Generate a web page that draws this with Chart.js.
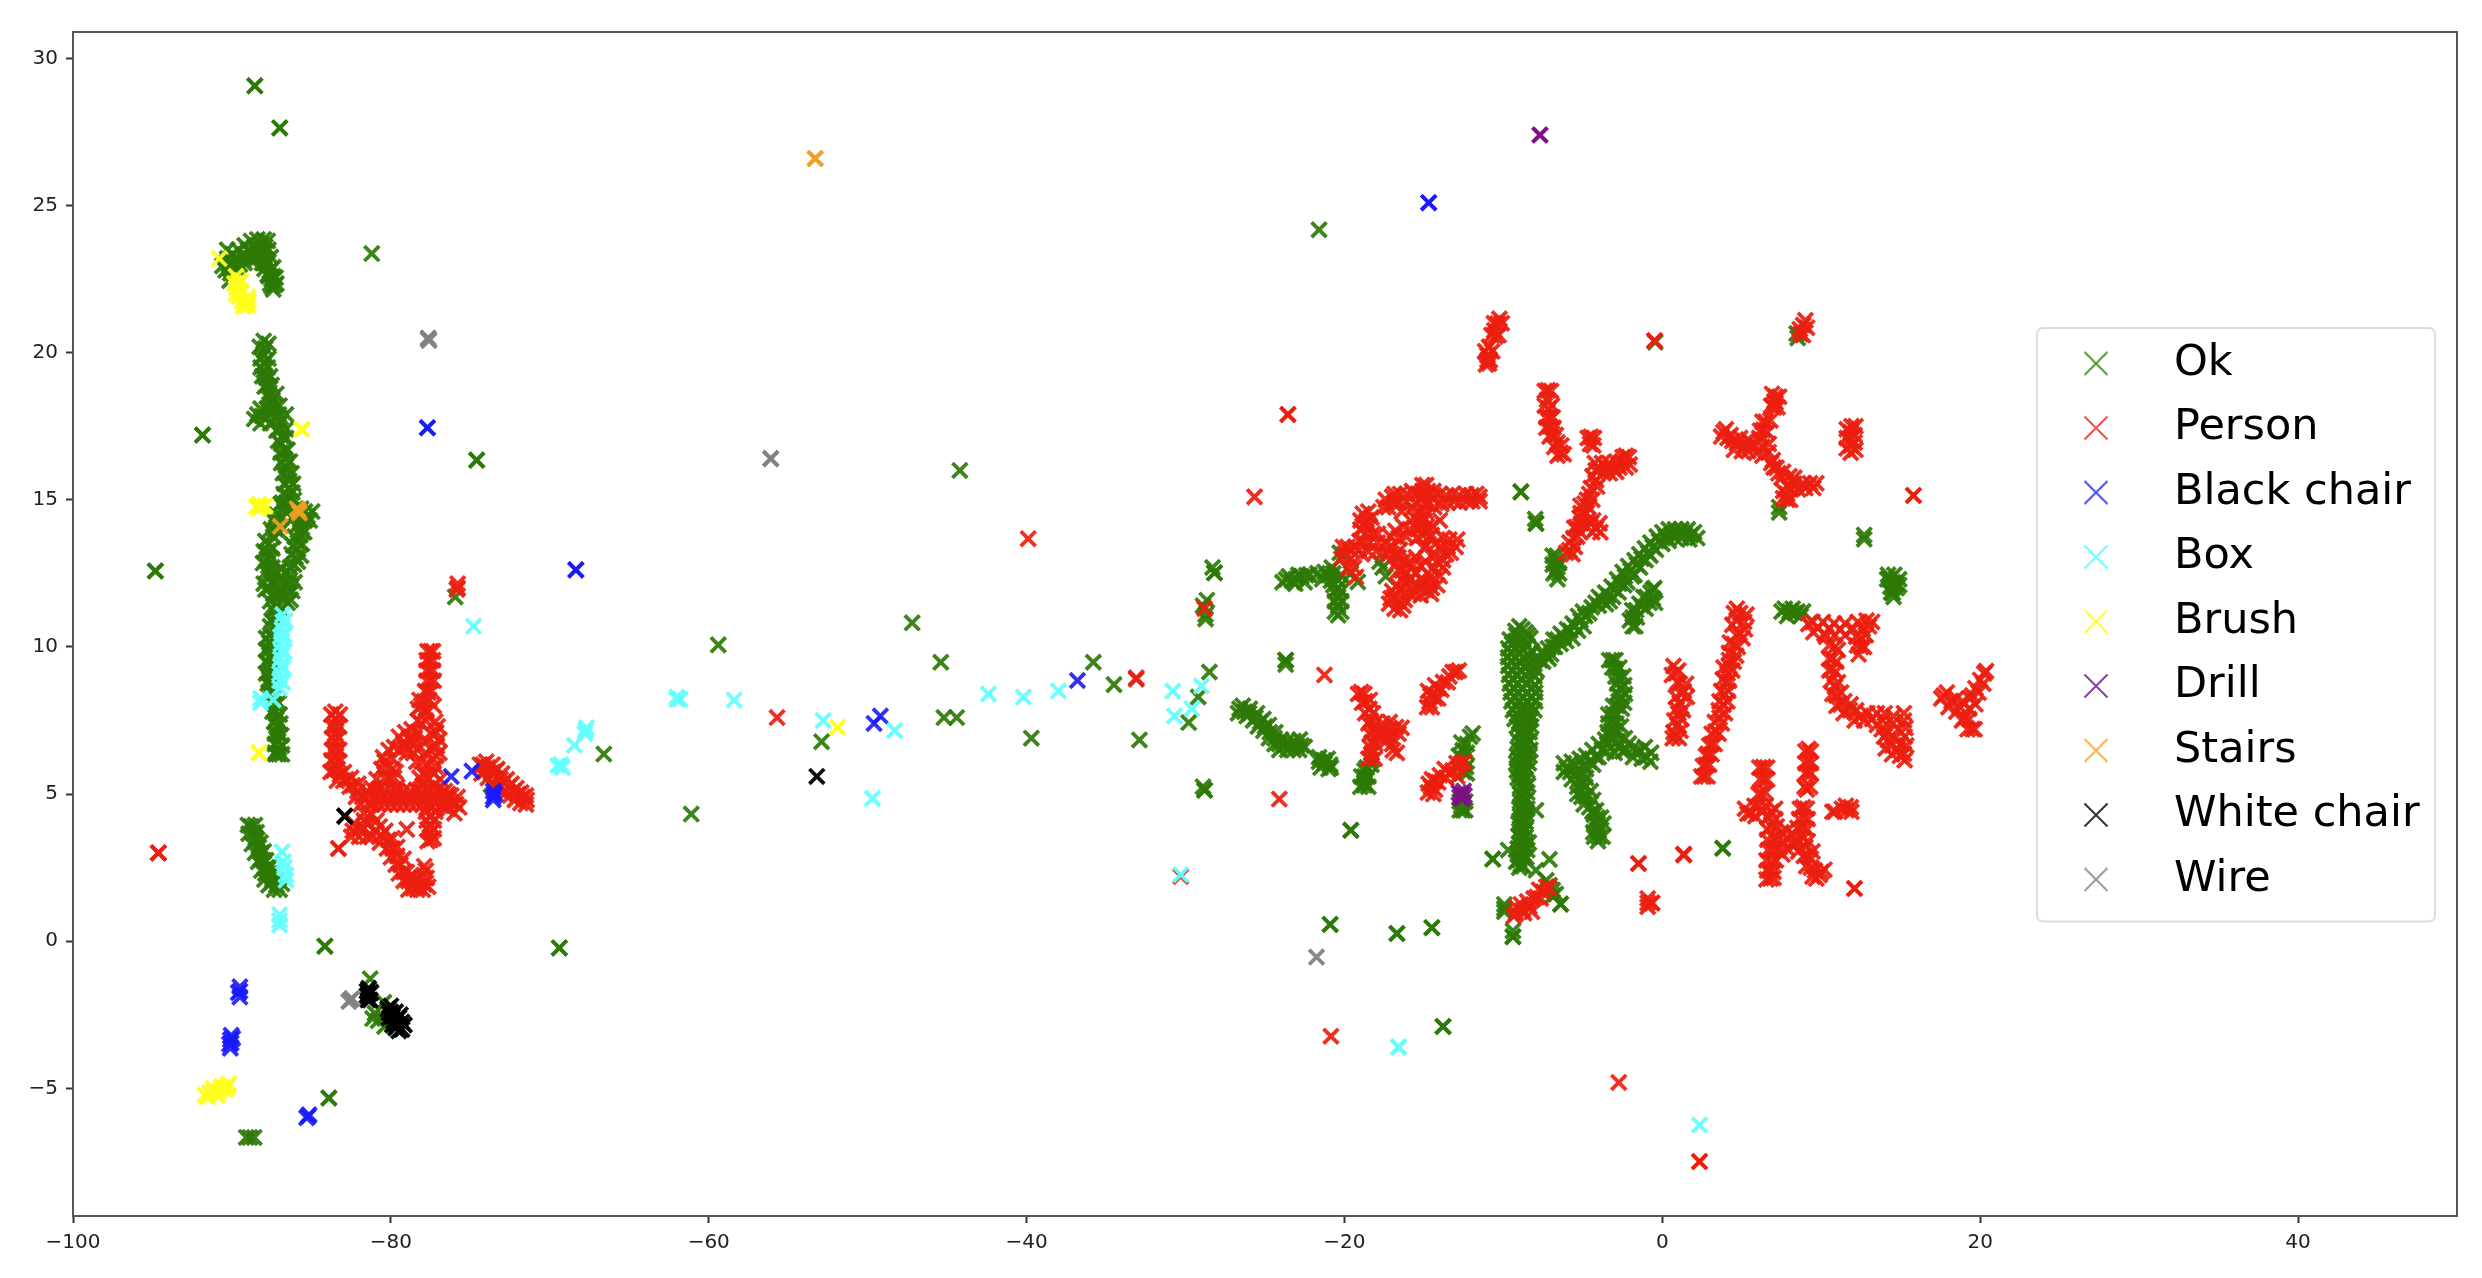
<!DOCTYPE html>
<html><head><meta charset="utf-8">
<style>html,body{margin:0;padding:0;background:#fff}canvas{display:block;filter:blur(0.6px)}</style>
<script src="https://cdn.jsdelivr.net/npm/chart.js@4"></script>
</head><body><canvas id="c" width="2482" height="1278"></canvas>
<script>
const classNames=["Ok","Person","Black chair","Box","Brush","Drill","Stairs","White chair","Wire"];
const xTicks=[-100,-80,-60,-40,-20,0,20,40];
const yTicks=[-5,0,5,10,15,20,25,30];
const ok=[
[-88.56,29.07],[-88.56,29.07],[-86.99,27.64],[-86.99,27.64],[-81.2,23.37],[-91.85,17.2],[-91.85,17.2],[-74.6,16.35],[-74.6,16.35],[-94.82,12.58],[-94.82,12.58],[-75.95,11.7],[-84.15,-0.17],[-84.15,-0.17],[-69.4,-0.23],[-69.4,-0.23],[-83.9,-5.33],[-83.9,-5.33],[-66.6,6.36],[-61.1,4.32],[-81.3,-1.28],[-81.15,-2.63],[-81.0,-2.45],[-80.44,-2.08],[-80.4,-2.9],[-80.8,-2.7],[-73.7,5.32],[-73.4,5.8],
[-89.1,-6.67],[-88.87,-6.67],[-88.6,-6.67],
[-90.3,23.5],[-90.4,22.8],[-90.2,23.0],[-90.0,23.1],[-89.7,23.2],[-89.3,23.3],[-89.0,23.5],[-88.6,23.6],[-88.2,23.7],[-87.9,23.6],[-88.2,23.3],[-88.7,23.2],[-87.9,23.2],[-87.8,23.0],[-87.6,22.8],[-87.4,22.6],[-87.3,22.3],[-87.5,22.5],[-90.1,22.7],[-89.9,22.9],[-89.5,23.0],[-88.4,23.5],[-88.0,23.4],[-87.7,22.6],[-87.5,22.25],
[-90.6,22.95],[-90.3,23.2],[-89.95,23.35],[-89.6,23.5],[-89.2,23.65],[-88.8,23.8],[-88.4,23.85],[-88,23.85],[-87.75,23.8],[-90.15,22.45],[-89.85,22.65],[-89.55,22.8],[-89.2,23.05],[-88.9,23.2],[-88.45,23.2],[-88.1,23.05],[-87.95,22.85],[-87.75,22.65],[-87.6,22.35],[-87.25,22.55],[-87.4,22.9],[-87.55,23.25],[-87.7,23.5],[-88.0,23.05],[-87.2,22.35],[-87.4,22.15],
[-88,20.4],[-87.9,20.15],[-88.05,19.9],[-87.95,19.65],[-88,19.4],[-87.85,19.15],[-87.8,18.9],[-87.65,18.65],[-87.45,18.4],[-87.3,18.15],[-87.05,17.9],[-87.5,18.0],[-88.4,17.9],[-88.1,17.85],[-87.8,17.8],[-86.9,17.65],[-86.95,17.4],[-86.85,17.15],[-86.9,16.9],[-86.7,16.65],[-86.7,16.4],[-86.6,16.15],[-86.55,15.9],[-86.4,15.65],[-86.4,15.4],[-86.5,15.15],[-86.6,14.9],[-86.7,14.65],[-86.1,15.0],
[-88.25,20.2],[-87.7,20.3],[-88.2,19.8],[-87.7,19.8],[-88.2,19.5],[-87.75,19.5],[-88.1,19.2],[-87.6,19.2],[-87.95,18.85],[-87.5,18.9],[-87.75,18.5],[-87.2,18.6],[-87.5,18.2],[-87,18.2],[-88.2,18.1],[-87.8,18.1],[-88.6,17.75],[-88.2,17.6],[-87.6,17.6],[-87.3,17.7],[-86.6,17.9],[-87.2,17.35],[-86.6,17.4],[-87.1,17],[-86.6,17.1],[-86.95,16.6],[-86.5,16.7],[-86.9,16.25],[-86.35,16.3],[-86.8,15.9],[-86.25,15.9],[-86.7,15.55],[-86.15,15.55],[-86.75,15.2],[-86.2,15.25],[-86.85,14.9],[-86.35,14.7],[-86.0,14.7],[-85.65,14.7],[-85.25,14.45],[-85.95,14.1],[-85.4,14.3],[-85.45,13.9],[-86.05,13.75],[-85.6,13.5],[-86.15,13.45],[-85.65,13.1],[-86.25,13.15],[-85.85,12.9],[-86.35,12.7],[-86.95,14.85],[-87.4,14.3],[-86.85,14.4],[-87.55,14],[-87.0,13.9],[-87.9,13.6],[-87.45,13.35],[-88,13.25],[-87.5,13],[-88.05,12.85],[-87.45,12.7],[-87.85,12.55],[-87.2,12.55],[-86.9,12.65],[-86.3,12.45],[-86.05,12.2],[-86.2,11.9],[-86.3,11.6],[-86.9,11.8],[-87.7,12],[-88.0,12.15],[-87.2,12.1],[-86.6,12.1],[-87.1,11.75],[-86.5,11.5],[-87.6,11.55],[-87.1,11.0],[-87.5,10.9],[-87.25,10.75],[-87.85,10.3],[-87.4,10.3],[-87.85,9.9],[-87.4,9.8],[-87.85,9.5],[-87.4,9.4],[-87.85,9.1],[-87.4,9.0],[-87.75,8.75],[-87.35,8.7],[-87.7,8.45],[-87.35,8.45],[-87.45,8.2],[-87.05,8.1],[-87.45,7.8],[-87.0,7.7],[-87.35,7.45],[-86.95,7.4],[-87.3,7.05],[-86.9,7.0],[-87.3,6.7],[-86.85,6.65],[-87.25,6.35],[-86.85,6.35],
[-85.4,14.6],[-84.95,14.6],[-85.1,14.3],[-85.7,14.3],[-85.6,14.05],[-86.2,14.4],[-85.7,13.8],[-85.85,13.55],[-85.9,13.3],[-86,13.05],[-86.1,12.8],
[-87.2,14.5],[-87.1,14.25],[-87.25,14.0],[-87.4,13.75],[-87.7,13.5],[-87.75,13.25],[-87.8,13],[-87.7,12.75],[-87.6,12.5],
[-86.6,12.5],[-87,12.3],[-86.4,12.2],[-87.5,12.2],[-87.9,11.95],[-87,12],[-86.5,11.9],[-87.4,11.8],[-86.7,11.6],[-87.2,11.5],[-87.4,11.25],[-86.95,11.25],[-87.35,11],[-87.6,10.7],
[-87.6,10.4],[-87.65,10.15],[-87.65,9.9],[-87.6,9.65],[-87.7,9.4],[-87.6,9.15],[-87.65,8.9],[-87.55,8.65],[-87.6,8.4],[-87.3,8.05],[-87.3,7.8],[-87.2,7.55],[-87.2,7.3],[-87.1,7.05],[-87.1,6.8],[-87.05,6.55],[-87.05,6.35],[-87.3,6.4],
[-88.8,3.9],[-88.65,3.7],[-88.4,3.45],[-88.3,3.2],[-88.15,3.0],[-88,2.75],[-87.8,2.5],[-87.6,2.3],[-87.45,2.1],[-87.2,1.9],[-87,1.75],[-87.5,2.0],[-88.5,3.5],[-87.9,2.3],[-88.2,2.8],
[-89,3.95],[-88.55,3.95],[-88.95,3.65],[-88.45,3.7],[-88.75,3.3],[-88.2,3.35],[-88.55,3.0],[-88,3.05],[-88.35,2.7],[-87.85,2.75],[-88.15,2.4],[-87.65,2.5],[-87.95,2.1],[-87.4,2.35],[-87.7,1.9],[-87.15,2.1],[-87.35,1.75],[-86.85,1.95],
[-44.2,16.0],[-47.2,10.82],[-59.4,10.07],[-45.4,9.48],[-35.8,9.48],[-34.5,8.72],[-45.2,7.6],[-44.4,7.6],[-52.9,6.78],[-39.7,6.9],[-32.9,6.84],[-29.8,7.43],[-29.2,8.3],[-28.5,9.15],
[-28.18,12.52],[-28.18,12.52],[-28.66,11.59],[-28.74,11.1],[-28.74,10.95],[-28.8,5.13],[-28.8,5.13],[-28.9,5.25],[-23.7,9.55],[-23.7,9.55],[-23.7,9.4],[-21.6,24.18],[-20.9,0.57],[-20.9,0.57],[-19.6,3.77],[-19.6,3.77],[-16.7,0.26],[-16.7,0.26],[-14.5,0.46],[-14.5,0.46],[-13.8,-2.9],[-13.8,-2.9],[-8.9,15.27],[-8.9,15.27],[-7.95,14.2],[-7.95,14.2],[-8,14.35],[-0.45,20.36],[3.8,3.16],[3.8,3.16],[7.35,14.57],[7.35,14.75],[12.7,13.66],[12.7,13.8],[8.52,20.5],[8.45,20.65],
[14.53,12.2],[14.2,12.45],[14.9,12.3],[14.5,11.84],[14.75,12.0],[14.35,12.05],[14.3,12.3],[14.7,12.15],[14.5,12],[14.9,12.1],[14.55,11.7],[14.4,11.85],[14.15,12.3],[14.6,12.45],
[7.7,11.3],[8.0,11.2],[8.36,11.15],[8.7,11.05],[7.5,11.2],[7.85,11.05],[8.2,11.3],[8.5,11.2],[8.85,11.2],
[-23.67,12.29],[-23.04,12.32],[-22.4,12.44],[-23.3,12.25],[-22.7,12.4],[-21.05,12.44],[-21.4,12.3],[-20.7,12.5],[-20.4,12.27],[-20.4,12.0],[-20.4,11.7],[-20.4,11.4],[-20.4,11.08],[-20.7,12.1],[-19.16,12.21],[-17.6,12.7],[-17.8,12.9],[-20.3,13.2],[-17.4,12.4],[-19.6,12.5],
[-23.9,12.2],[-23.5,12.4],[-23.1,12.15],[-22.9,12.45],[-22.5,12.2],[-22.2,12.45],[-21.7,12.5],[-21.25,12.55],[-20.85,12.25],[-20.6,11.9],[-20.2,11.9],[-20.6,11.55],[-20.2,11.55],[-20.6,11.2],[-20.2,11.2],[-20.2,12.45],[-20.8,12.7],
[-26.6,7.9],[-26.3,7.8],[-26,7.75],[-25.6,7.6],[-25.3,7.45],[-25,7.3],[-24.7,7.1],[-24.4,6.9],[-24.1,6.7],[-23.8,6.65],[-23.4,6.6],[-23,6.65],[-22.7,6.65],
[-26.7,7.75],[-26.4,8],[-26.15,7.65],[-25.95,7.9],[-25.75,7.5],[-25.5,7.75],[-25.45,7.3],[-25.1,7.55],[-25.1,7.15],[-24.75,7.35],[-24.75,6.9],[-24.35,7.1],[-24.4,6.7],[-24.0,6.85],[-24.1,6.5],[-23.6,6.8],[-23.6,6.5],[-23.2,6.8],[-23.2,6.5],[-22.8,6.85],[-22.85,6.5],[-22.5,6.6],[-21.5,5.9],[-21.05,6.2],[-20.85,5.9],[-21.6,6.25],[-21,5.85],
[-21.6,6.1],[-21.26,6.04],[-20.9,6.0],[-21.3,6.15],
[-18.74,5.3],[-18.74,5.6],[-18.74,5.8],[-18.3,6.15],[-18.3,6.0],[-18.5,5.25],[-19,5.25],[-18.95,5.6],[-18.5,5.6],[-18.6,5.9],[-18.75,5.4],
[-12.56,6.49],[-12.3,6.7],[-11.93,7.06],[-12.35,5.92],[-12.5,6.2],[-12.56,4.45],[-12.56,4.7],[-12.8,6.3],[-12.3,6.4],[-12.65,6.75],[-12.1,6.95],[-12.75,4.45],[-12.4,4.45],[-12.75,4.75],[-12.4,4.75],[-12.65,4.6],[-12.3,5.7],[-12.5,5.75],
[-10.67,2.79],[-10.67,2.79],[-9.7,3.1],[-9,2.75],[-9.1,2.95],[-8.9,2.6],[-7.95,2.41],[-7.1,2.78],[-7.3,2.07],[-6.4,1.26],[-6.4,1.26],[-9.94,1.11],[-9.94,1.0],[-9.94,1.25],[-9.4,0.15],[-9.4,0.15],[-9.4,0.35],[-6.9,1.74],[-6.9,1.55],[-7.1,1.9],[-6.7,1.6],[-7.95,4.45],
[-9,10.7],[-8.6,10.5],[-8.3,10.3],[-9.2,10.4],[-9.45,10.1],[-9,10.1],[-8.5,10.05],[-9.5,9.8],[-9,9.8],[-8.4,9.7],[-9.5,9.5],[-9,9.5],[-8.4,9.4],[-9.45,9.2],[-8.95,9.2],[-8.3,9.15],[-9.4,8.9],[-8.85,8.9],[-8.3,8.85],[-9.35,8.6],[-8.85,8.6],[-8.2,8.6],[-9.3,8.3],[-8.8,8.3],[-8.2,8.3],[-9.2,8.0],[-8.7,8.0],[-8.25,8.0],[-9.1,7.7],[-8.6,7.7],[-8.3,7.7],[-9,7.45],[-8.5,7.45],[-8.8,7.2],[-8.5,7.2],[-8.8,6.95],[-8.6,6.95],[-8.9,6.7],[-8.6,6.7],[-8.9,6.45],[-8.55,6.45],[-9,6.2],[-8.6,6.2],[-9,5.95],[-8.65,5.95],[-9,5.7],[-8.7,5.7],[-8.95,5.45],[-8.7,5.2],[-8.75,4.95],[-8.7,4.7],[-8.85,4.45],[-8.7,4.2],[-8.85,3.95],[-8.75,3.7],[-8.85,3.45],[-8.6,3.25],[-8.8,3.1],
[-9.25,10.55],[-8.8,10.6],[-8.45,10.4],[-9.6,10.25],[-9.25,10.2],[-8.75,10.25],[-9.7,9.95],[-9.25,9.95],[-8.75,9.9],[-8.2,9.85],[-9.7,9.65],[-9.25,9.65],[-8.7,9.6],[-8.15,9.5],[-9.7,9.35],[-9.2,9.35],[-8.65,9.3],[-8.1,9.3],[-9.65,9.05],[-9.15,9.05],[-8.6,9.05],[-8.05,9],[-9.6,8.75],[-9.1,8.75],[-8.55,8.75],[-8.0,8.7],[-9.55,8.45],[-9.05,8.45],[-8.5,8.45],[-8,8.45],[-9.5,8.15],[-9,8.15],[-8.5,8.15],[-8,8.15],[-9.4,7.85],[-8.9,7.85],[-8.45,7.85],[-8.05,7.85],[-9.3,7.55],[-8.85,7.55],[-8.25,7.55],[-9.15,7.3],[-8.65,7.3],[-8.25,7.3],[-9,7.05],[-8.65,7.05],[-8.35,7.1],[-9.05,6.8],[-8.75,6.8],[-8.35,6.8],[-9.1,6.55],[-8.75,6.55],[-8.3,6.5],[-9.15,6.3],[-8.75,6.3],[-8.35,6.3],[-9.2,6.05],[-8.8,6.05],[-8.4,6.05],[-9.15,5.8],[-8.85,5.8],[-8.5,5.8],[-8.6,5.5],[-9.1,5.55],[-8.45,5.3],[-8.95,5.25],[-8.5,5.05],[-8.95,5],[-8.55,4.8],[-8.95,4.75],[-8.5,4.5],[-9,4.5],[-8.55,4.3],[-8.95,4.25],[-8.6,4.05],[-9.05,4],[-8.6,3.8],[-9,3.75],[-8.6,3.55],[-9,3.55],[-8.4,3.35],[-9,3.3],[-8.5,3.1],[-9.1,3.15],[-8.8,2.85],[-9.2,2.7],[-8.55,2.85],[-9,2.5],[-8.75,2.55],
[-8,9.6],[-7.6,9.8],[-7.2,9.95],[-6.9,10],[-6.6,10.25],[-6.2,10.35],[-5.8,10.55],[-5.5,10.7],[-5.15,10.9],[-4.85,11.05],[-7.9,9.2],[-7.5,9.5],[-7.15,9.6],
[-7.7,9.55],[-7.35,9.75],[-7,9.75],[-6.75,10.0],[-6.4,10.1],[-6.05,10.2],[-5.65,10.3],[-5.3,10.55],[-4.95,10.7],[-6.85,10.25],[-6.4,10.45],[-6,10.6],[-5.65,10.8],[-5.3,11.05],[-5,11.2],[-4.6,11.15],
[-4.2,11.5],[-3.8,11.6],[-3.4,11.75],[-3,11.95],[-2.7,12.15],[-2.35,12.4],[-2,12.6],[-1.6,12.8],[-1.3,13],[-0.9,13.2],[-0.6,13.4],[-0.2,13.6],[0.2,13.75],[0.6,13.85],[1,13.9],[1.4,13.85],[1.8,13.8],[2.2,13.7],[-2.4,12.1],[-1.9,12.4],[-3.3,11.55],
[-4.45,11.35],[-4,11.7],[-3.6,11.85],[-3.2,12.05],[-2.85,12.3],[-2.5,12.55],[-2.15,12.75],[-1.75,12.95],[-1.45,13.15],[-1.1,13.35],[-0.75,13.55],[-0.35,13.75],[0,13.9],[0.4,14],[0.8,14],[1.2,14.0],[1.6,14],[2,13.9],[-4,11.4],[-3.55,11.45],[-3.1,11.7],[-2.75,11.85],[-2.2,12.2],[-1.75,12.45],[-1.4,12.7],[-1.05,12.95],[-0.75,13.1],[-0.4,13.3],[0,13.5],[0.4,13.6],[0.8,13.7],[1.2,13.7],[1.7,13.65],
[-1.87,10.7],[-1.87,11.0],[-1.65,11.25],[-1.45,11.47],[-1.0,11.7],[-0.6,11.95],[-0.6,11.65],[-1.7,10.7],[-2.05,10.9],[-1.6,11],[-1.9,11.25],[-1.3,11.4],[-1.2,11.7],[-0.8,11.5],[-0.75,11.85],[-0.5,12.0],[-0.45,11.5],[-1.05,11.3],
[-6.7,12.6],[-6.7,12.9],[-6.65,13.1],[-6.85,12.5],[-6.9,12.8],[-6.5,12.85],[-6.9,13.1],[-6.5,12.5],[-6.6,12.3],
[-3.12,9.55],[-2.95,9.25],[-2.7,8.95],[-2.65,8.6],[-2.6,8.3],[-2.85,8.0],[-3.12,7.74],[-3.15,7.45],[-3.2,7.17],[-3.3,6.95],[-3.44,6.72],[-3.8,6.5],[-4.17,6.26],[-4.6,6.1],[-5,6],[-5.5,5.95],[-6,5.87],[-5.4,5.7],[-5,5.36],[-5.1,5.1],[-5.1,4.9],[-4.5,5.1],[-4.17,4.45],[-4.1,4.2],[-4.07,4],[-4,3.75],[-4,3.55],[-4.35,3.7],[-4.3,4.3],[-3.7,4],
[-3.35,9.55],[-2.95,9.55],[-3.15,9.3],[-2.7,9.3],[-2.95,9],[-2.45,9],[-2.85,8.75],[-2.4,8.7],[-2.8,8.4],[-2.35,8.4],[-2.75,8.15],[-2.4,8.1],[-3.1,8],[-2.55,7.9],[-3.4,7.7],[-2.85,7.7],[-3.4,7.4],[-2.9,7.4],[-3.45,7.1],[-3,7.15],[-3.6,6.85],[-3.1,6.9],[-4,6.7],[-3.5,6.45],[-4.4,6.5],[-4,6.25],[-4.8,6.3],[-4.35,6.0],[-5.2,6.2],[-4.8,5.85],[-5.7,6.1],[-5.2,5.8],[-6.2,6.05],[-5.8,5.75],[-6.2,5.75],[-5.7,5.5],[-5.25,5.5],[-4.8,5.55],[-5.35,5.25],[-4.85,5.25],[-5.35,5.0],[-4.8,4.9],[-4.35,4.8],[-4.95,4.65],[-4.6,4.55],[-4.4,4.4],[-4.3,4.05],[-3.85,4.2],[-4.3,3.55],[-3.75,3.55],[-4.05,3.4],[-2.75,6.6],[-2.35,6.9],[-2.3,6.5],[-1.85,6.55],[-1.85,6.25],[-1.4,6.45],[-0.75,6.1],[-0.7,6.4],[-1.1,6.6],
[-2.8,6.8],[-2.1,6.72],[-1.6,6.5],[-1,6.26],[-1.3,6.2],[-2.5,6.45],[-3,6.4],[-2.6,7.3],
[-28.9,11.4],[-28.3,12.7]
];
const person=[
[-83.5,7.8],[-83.45,7.55],[-83.5,7.3],[-83.5,7.05],[-83.5,6.8],[-83.45,6.55],[-83.45,6.3],[-83.5,6.05],[-83.6,5.8],[-83.2,5.65],[-82.8,5.5],[-82.4,5.3],[-82.1,5.1],[-81.8,4.9],[-81.4,4.7],[-81.7,4.35],[-81.7,4.1],[-82.4,3.75],[-82,3.8],[-81.4,4.0],[-81,3.73],[-80.6,3.6],[-80.16,3.45],[-79.9,3.15],[-79.6,2.9],[-79.4,2.6],[-79.2,2.35],[-78.9,2.05],[-78.6,1.8],[-78.25,1.85],[-77.9,1.93],[-77.8,2.4],[-78.4,2.1],
[-83.75,7.7],[-83.2,7.7],[-83.7,7.3],[-83.25,7.3],[-83.7,6.9],[-83.3,6.9],[-83.7,6.5],[-83.25,6.5],[-83.75,6.15],[-83.25,6.1],[-83.8,5.75],[-83.35,5.85],[-83.4,5.45],[-83,5.45],[-82.95,5.75],[-82.6,5.25],[-82.5,5.55],[-82.2,4.9],[-82.05,5.35],[-81.9,4.65],[-81.5,5.1],
[-82.3,4],[-82.5,3.55],[-82.0,3.55],[-81.7,3.85],[-81.5,3.55],[-81.2,4.3],[-81.2,3.55],[-80.9,4.1],[-80.7,3.9],[-80.7,3.35],[-80.35,3.75],[-80.25,3.15],[-79.9,3.5],[-80,2.85],[-79.6,3.2],[-79.7,2.6],[-79.2,2.8],[-79.5,2.3],[-79,2.35],[-79.2,2.05],[-78.7,2.25],[-78.9,1.75],[-78.35,1.75],[-78.1,2.15],[-77.75,2.15],[-77.65,1.85],[-78.6,2.0],[-78,1.75],
[-81.4,4.95],[-81,4.9],[-80.6,4.85],[-80.2,4.85],[-79.8,4.9],[-79.4,4.85],[-79,4.9],[-78.6,4.85],[-78.2,4.9],[-77.8,4.85],[-77.4,4.9],[-77,4.8],[-76.6,4.8],[-76.2,4.7],[-75.9,4.65],[-76.4,5.0],
[-81.2,5.2],[-81.2,4.65],[-80.8,4.65],[-80.4,4.65],[-80,4.65],[-79.6,4.65],[-79.2,4.65],[-78.8,4.65],[-78.4,4.65],[-78,4.65],[-77.6,4.65],[-77.2,4.65],[-76.8,4.6],[-76.4,4.5],[-80.8,5.15],[-80.4,5.15],[-80,5.15],[-79.6,5.1],[-79.2,5.1],[-78.8,5.1],[-78.4,5.15],[-78,5.1],[-77.6,5.1],[-77.2,5.1],[-76.8,5],[-76.2,4.95],[-75.8,4.9],[-75.7,4.55],[-76,4.35],
[-80.7,5.2],[-80.4,5.55],[-80.2,5.9],[-79.9,6.2],[-80.4,6.1],[-79.5,6.5],[-79.2,6.75],[-78.85,6.9],[-78.5,6.9],[-78.3,6.5],[-78.06,6.1],[-78.6,6.4],[-77.95,5.7],[-78,5.3],[-79.6,5.25],[-79.8,5.55],
[-80.9,5.5],[-80.6,5.85],[-80.5,6.25],[-80.15,6.5],[-79.8,6.6],[-79.5,6.95],[-79.1,7.1],[-78.7,7.2],[-78.3,7.1],[-78,6.8],[-77.8,6.4],[-78.4,6.1],[-79,6.4],[-79.7,5.75],[-80.1,5.55],[-79.9,5.85],[-78.6,6.7],[-79.1,6.6],[-78.2,5.55],
[-78.1,7.4],[-77.9,7.8],[-77.9,8.15],[-78.1,8.0],[-77.65,8.45],[-77.5,8.85],[-77.55,9.2],[-77.6,9.54],[-77.5,9.85],[-77.3,8.0],[-77.2,7.46],[-77.15,7.1],[-77.1,6.63],[-77.15,6.3],[-77.2,5.94],[-77.6,5.53],[-77.3,5.3],[-77.6,4.6],[-77.5,4.28],[-77.55,3.95],[-77.5,3.7],[-77.5,3.45],[-77.2,4.4],[-76.9,5.2],
[-78.3,7.5],[-77.8,7.5],[-78.3,7.9],[-77.75,7.85],[-78.2,8.2],[-77.6,8.2],[-77.85,8.5],[-77.45,8.5],[-77.75,8.85],[-77.3,8.85],[-77.75,9.2],[-77.35,9.2],[-77.75,9.55],[-77.35,9.55],[-77.7,9.85],[-77.35,9.85],[-77.05,7.3],[-77.35,7],[-76.95,6.85],[-77.35,6.6],[-76.95,6.4],[-77.35,6.2],[-77.65,6.0],[-77.3,5.7],[-77.8,5.6],[-76.9,5.5],[-77.8,4.4],[-77.3,4.1],[-77.75,4.1],[-77.3,3.8],[-77.7,3.8],[-77.3,3.5],[-77.7,3.4],[-76.6,5.1],[-76.6,4.55],
[-79,3.8],[-83.3,3.15],[-83.3,3.15],[-94.63,3.0],[-94.63,3.0],[-94.63,3.0],[-75.8,12.15],[-75.85,11.95],[-75.8,12.0],[-77.9,2.55],
[-74.2,6.0],[-73.9,5.9],[-73.6,5.75],[-73.4,5.5],[-73.1,5.5],[-72.9,5.4],[-72.6,5.25],[-72.3,5.1],[-72,5.0],[-71.7,4.9],[-71.45,4.8],[-74.1,5.75],
[-74.4,6.0],[-74.0,6.1],[-73.6,6.0],[-73.3,5.85],[-73.0,5.7],[-72.7,5.5],[-72.4,5.35],[-72.1,5.2],[-71.8,5.05],[-71.5,4.95],[-74.3,5.7],[-73.9,5.55],[-73.55,5.3],[-73.2,5.15],[-72.85,5.0],[-72.5,4.95],[-72.2,4.8],[-71.85,4.7],[-71.5,4.65],
[-11.5,15.1],[-12,15.15],[-12.35,15.2],[-12.8,15.15],[-13.2,15.2],[-13.6,15.15],[-14,15.2],[-14.4,15.3],[-14.86,15.5],[-15.07,15.15],[-15,14.85],[-15.3,14.6],[-15.3,14.3],[-16.1,15.2],[-16.5,15.2],[-17,15.1],[-17.4,15],[-18.85,14.53],[-18.6,14.3],[-18.4,14.1],[-18.7,13.85],[-18.85,13.6],[-19.3,13.4],[-20,13.17],[-19.6,13.3],[-18.4,13.55],[-17.9,13.55],[-17.4,13.5],[-17,13.4],[-16.5,13.3],[-16.6,13.7],[-15.9,14],[-15.4,14],[-15.1,13.8],[-14.65,13.74],[-14.3,13.5],[-14,13.4],[-13.5,13.4],[-13,13.4],[-13.8,12.95],[-14.3,13.1],[-15,13.35],[-16.3,12.9],[-14.9,12.9],[-14,12.4],[-14.4,12.7],[-15.07,12.27],[-15.5,12.5],[-16.1,12.5],[-16.75,12.83],[-16.2,12.2],[-15.7,12.1],[-15.3,12],[-14.86,11.93],[-15.9,11.8],[-16.5,11.93],[-16.9,11.7],[-17.2,11.47],[-16.5,11.25],[-16.6,11.55],[-14.5,12],[-14,14.3],[-16.4,14.6],[-16.9,14.9],[-19.8,12.66],[-19.27,12.38],[-19.4,12.7],
[-11.7,15.2],[-11.5,14.95],[-11.95,14.95],[-12.3,14.95],[-12.75,14.9],[-13.1,14.95],[-13.5,14.9],[-13.9,14.85],[-14.35,14.75],[-14.75,14.85],[-14.45,15.05],[-14.75,15.3],[-15.1,15.5],[-15.1,15.3],[-14.9,14.6],[-15,14.3],[-15.5,14.9],[-15.4,15.2],[-15.75,15.3],[-16.1,14.95],[-16.55,14.9],[-16.85,15.2],[-17.25,14.75],[-17.55,14.75],[-15.75,14.7],[-15.6,14.4],[-15.2,14.05],[-14.8,14.1],[-14.45,14.1],[-15.45,13.7],[-14.85,13.45],[-14.5,13.8],[-16.1,13.75],[-16.8,13.95],[-16.3,14.1],
[-19,14.3],[-18.5,14.6],[-18.3,14.4],[-19.0,14],[-18.7,14.1],[-18.2,13.85],[-19.05,13.6],[-18.5,13.25],[-18.0,13.25],[-17.6,13.2],[-17.2,13.15],[-16.8,13.1],[-17.1,13.75],[-19.1,13.3],[-19.6,13],[-20.2,13],[-20.1,13.4],[-19.8,13.4],[-18.9,13.15],[-17.9,13.85],
[-16.6,13.05],[-16.4,12.6],[-16.0,12.85],[-15.7,12.8],[-15.2,12.75],[-15.5,13.05],[-14.6,12.4],[-14.15,12.1],[-13.8,12.7],[-13.6,13.15],[-13.3,13.2],[-12.9,13.65],[-13.4,13.65],[-13.8,13.7],[-14.2,12.9],[-14.6,12.2],[-15.2,11.75],[-15.6,11.8],[-15.2,12.3],[-15.85,12.3],[-16.4,12.3],[-16.7,12.1],[-16.2,11.6],[-16.85,11.3],[-17,11.9],[-17.1,11.65],[-16.3,11.4],[-14.9,12.2],[-14.55,11.8],[-16.6,12.6],
[-10.36,20.99],[-10.25,21.15],[-10.57,20.76],[-10.5,20.55],[-10.9,20.2],[-11,19.91],[-10.9,19.63],[-11,19.75],[-7.2,18.72],[-7.25,18.4],[-7.15,18.1],[-7.1,17.8],[-7.1,17.5],[-6.95,17.25],[-6.6,16.95],[-6.4,16.6],[-4.5,17.14],[-4.34,16.85],[-2.3,16.5],[-2.3,16.1],[-2.7,16.1],[-3.1,16.06],[-3.5,16.1],[-4,16.06],[-4.17,15.67],[-4.6,15.2],[-4.9,14.87],[-4.8,14.53],[-4.5,14.2],[-4.17,14.03],[-5.4,14.08],[-5.2,14.4],[-5.6,13.7],[-5.85,13.29],
[-10.6,21],[-10.1,21],[-10.75,20.6],[-10.3,20.6],[-10.85,19.75],[-11.15,20.05],[-10.7,20.05],[-11.1,19.6],[-7.4,18.7],[-7,18.7],[-7.4,18.2],[-6.95,18.2],[-7.3,17.8],[-6.9,17.8],[-7.3,17.45],[-6.85,17.45],[-7.1,17.15],[-6.7,17.2],[-6.8,16.8],[-6.35,16.85],[-6.6,16.5],[-6.2,16.55],
[-4.7,17.1],[-4.3,17.1],[-4.55,16.9],[-2.1,16.45],[-2.5,16.45],[-2.55,16.3],[-2.05,16.2],[-2.9,15.95],[-3.3,15.9],[-3.7,15.9],[-4.2,16.0],[-4.25,16.25],[-3.8,16.25],[-3.35,16.25],[-2.9,16.3],[-4.4,15.8],[-4.1,15.45],[-4.5,15.4],[-4.75,15],[-4.4,15],[-5.15,14.8],[-4.65,14.75],[-5.15,14.55],[-4.7,14.3],[-5.1,14.2],[-4.35,14.3],[-3.95,14.2],[-3.9,13.9],[-4.4,13.9],[-5.25,13.95],[-5.55,14.05],[-5.35,13.75],[-5.85,13.55],[-5.5,13.4],[-6.05,13.2],[-5.65,13.15],
[-0.49,20.41],[-0.49,20.41],[-23.56,17.9],[-23.56,17.9],[-25.66,15.1],[-21.26,9.05],
[-13,9.15],[-13.4,9.0],[-13.8,8.81],[-14.1,8.6],[-14.45,8.41],[-14.65,8.13],[-14.3,8.25],[-12.8,9.2],[-13.2,9.15],[-13.5,8.8],[-13.9,8.55],[-14.3,8.7],[-14.6,8.35],[-14.75,8.5],[-14.1,8.25],[-14.5,7.95],[-14.8,7.95],
[-18.95,8.47],[-18.7,8.15],[-18.43,7.9],[-18.35,7.5],[-18.2,7.17],[-17.8,7.2],[-17.5,7.17],[-17.1,7.2],[-16.75,7.28],[-18.3,6.75],[-18.3,6.38],[-17.3,6.85],[-16.96,6.49],
[-19.15,8.4],[-18.75,8.4],[-18.9,8.1],[-18.4,8.2],[-18.7,7.75],[-18.2,7.75],[-18.5,7.4],[-18.05,7.45],[-18.4,7.05],[-17.95,7.0],[-17.6,7.4],[-17.15,7.45],[-17.5,6.9],[-17.1,6.95],[-18.4,6.6],[-18.05,6.7],[-18.5,6.2],[-18.1,6.2],[-17.0,6.7],[-16.7,6.4],[-16.6,7.05],[-16.4,7.25],
[-24.1,4.83],[-12.66,6.04],[-12.85,5.85],[-13.4,5.7],[-14,5.64],[-14.3,5.45],[-14.55,5.24],[-12.45,6.1],[-12.95,6.05],[-12.9,5.6],[-13.2,5.8],[-13.7,5.85],[-13.6,5.55],[-14.1,5.4],[-14.5,5.5],[-14.3,5.15],[-14.75,5.05],[-14.4,5.0],[-14.7,5.35],
[-1.5,2.64],[-1.5,2.64],[1.34,2.95],[1.34,2.95],[-0.92,1.45],[-0.92,1.17],[-0.92,1.3],
[-7.5,1.68],[-7.9,1.5],[-8.36,1.17],[-8.8,1.05],[-9.2,0.94],[-7.1,1.8],[-7.3,1.85],[-7.65,1.45],[-8.1,1.45],[-8.5,1.35],[-8.2,1.0],[-8.7,0.95],[-9.2,1.15],[-9.35,0.85],[-8.9,1.25],[-7.75,1.75],
[2.34,-7.49],[2.34,-7.49],[-2.74,-4.8],[-20.85,-3.23],[-30.3,2.2],[-28.8,11.3],[-33.1,8.9],[-33.1,8.95],[-55.7,7.6],[-39.9,13.68],
[8.86,20.94],[9.0,21.1],[8.69,20.64],[7.12,18.51],[7.12,18.3],[7.02,18.14],[8.65,20.8],[9.1,20.85],[8.85,20.6],[6.9,18.6],[7.35,18.5],[6.85,18.2],[7.25,18.15],[7.05,18.35],
[3.85,17.3],[4.1,17.1],[4.4,17],[4.69,16.92],[5.2,16.85],[5.6,16.9],[5.85,16.85],[6.1,17.1],[6.35,17.38],[6.5,17.65],[6.69,16.62],[6.3,16.8],[7.19,16.09],[6.95,16.35],[7.5,15.75],[7.85,15.48],[8.3,15.55],[8.86,15.56],[9.3,15.56],[9.69,15.56],[7.85,15],[7.85,15.2],
[3.7,17.15],[4.0,17.4],[4.3,17.2],[4.5,16.7],[4.9,17.1],[5,16.65],[5.4,17.05],[5.4,16.65],[5.9,16.6],[6.3,16.5],[6.7,16.9],[6.15,17.35],[6.6,17.3],[6.8,17.7],[6.3,17.65],[6.85,16.25],[7.0,16.1],[7.3,15.9],[7.6,15.95],[7.6,15.3],[8.1,15.35],[8.55,15.35],[9,15.4],[9.5,15.4],[8.3,15.75],[8,15.8],[7.6,15.05],[8.05,15],
[11.86,17.3],[11.86,17.05],[11.86,16.85],[12.1,16.95],[11.9,17.5],[12.1,17.2],[11.6,17.4],[12.15,17.5],[11.6,17.1],[12.15,16.7],[11.6,16.75],[11.85,16.6],
[15.8,15.15],[15.8,15.15],
[4.69,11.3],[5.3,11.1],[4.69,10.93],[5.2,10.6],[4.85,10.47],[4.5,10.1],[4.19,9.8],[4.5,9.5],[4.19,9.56],[4.1,9.1],[4.0,8.8],[3.9,8.4],[3.85,8.04],[3.6,7.6],[3.35,7.13],[3.1,6.7],[2.85,6.37],[2.75,6.0],[2.62,5.6],
[4.5,11.15],[4.9,11.15],[5.15,10.85],[4.4,10.75],[4.65,10.4],[5.05,10.3],[4.25,10.15],[4.75,10],[4.2,9.35],[4.65,9.7],[3.85,9.3],[4.4,9.2],[3.8,8.9],[4.2,8.85],[3.7,8.5],[4.15,8.5],[3.6,8.15],[4.1,8.15],[3.55,7.85],[3.95,7.75],[3.3,7.45],[3.75,7.4],[3.1,7.05],[3.55,7.05],[2.95,6.65],[3.3,6.7],[2.75,6.3],[3.1,6.35],[2.55,5.95],[2.95,6],[2.45,5.6],[2.85,5.6],
[0.7,9.35],[0.85,9.1],[1.1,8.75],[1.35,8.5],[1.1,8.1],[1.0,7.74],[0.95,7.35],[0.85,6.98],[0.6,9.05],[1.0,9.2],[0.95,8.8],[1.5,8.75],[1.2,8.4],[1.55,8.3],[0.85,8.3],[0.9,7.9],[1.3,7.85],[0.75,7.5],[1.2,7.55],[0.7,7.1],[1.15,7.15],[0.65,6.9],[1.05,6.9],
[9.19,10.78],[9.8,10.65],[10.5,10.62],[11.2,10.6],[12,10.62],[12.6,10.6],[13,10.7],[12.5,10.3],[12.5,10.0],[10.3,10.35],[10.86,10],[10.7,9.6],[10.7,9.26],[10.86,8.65],[10.95,8.35],[11.2,8.04],[11.8,7.85],[12.5,7.66],[13.2,7.55],[13.86,7.5],[14.5,7.4],[15.2,7.5],[14.2,7.1],[14.6,6.9],[14.2,6.83],[15.2,6.37],[15,6.7],[14.8,6.5],[13.8,7.2],
[9.45,10.85],[10.1,10.85],[10.8,10.8],[11.5,10.8],[12.3,10.85],[12.85,10.9],[13.2,10.85],[9.5,10.5],[10.2,10.45],[10.85,10.4],[11.5,10.4],[12.2,10.35],[12.8,10.4],[12.25,10.05],[12.7,10],[12.35,9.75],[10.5,10.05],[11.05,9.9],[10.5,9.6],[10.95,9.5],[10.5,9.2],[10.9,9.15],[10.6,8.85],[11.05,8.8],[10.7,8.4],[11.25,8.45],[10.95,8],[11.45,8.15],[11.4,7.75],[11.85,8.05],[12.1,7.5],[12.2,7.85],[12.7,7.5],[12.9,7.75],[13.5,7.75],[13.5,7.35],[14,7.75],[14.55,7.65],[15.2,7.75],[15.3,7.25],[14.85,7.2],[15.25,6.95],[13.95,6.95],[14.45,6.65],[14.05,6.55],[14.45,6.35],[15.35,6.65],[14.95,6.3],[15.25,6.15],
[17.7,8.35],[18.2,8.15],[18.7,7.97],[19.0,7.6],[19.5,7.21],[19.3,7.9],[19.5,8.35],[20,8.88],[20.37,9.18],[19.7,8.6],[17.55,8.25],[17.9,8.45],[18,7.95],[18.5,8.25],[18.5,7.8],[18.9,8.15],[18.85,7.5],[19.3,7.55],[19.2,7.2],[19.65,7.2],[19.7,8.05],[19.9,8.45],[20.2,8.75],[19.35,8.25],[20.25,9.1],
[9.19,6.53],[9.19,6.15],[9.19,5.77],[9.09,5.16],[9.0,6.45],[9.35,6.45],[9.0,6.05],[9.35,6.05],[9,5.7],[9.35,5.7],[8.95,5.25],[9.3,5.25],
[6.35,5.92],[6.4,5.5],[6.25,5.0],[5.35,4.33],[5.8,4.6],[6.5,4.6],[6.85,4.4],[6.85,3.9],[7.0,3.5],[6.9,3.1],[6.85,2.7],[6.8,2.13],[6.8,2.4],[8.86,4.55],[8.9,4.2],[8.86,3.85],[8.86,3.5],[8.2,3.64],[7.6,3.4],[9,3.2],[9.19,2.88],[9.35,2.5],[9.69,2.13],[10.2,2.43],[7.5,3.7],[8.4,3.3],
[6.1,5.9],[6.6,5.9],[6.15,5.5],[6.6,5.5],[6.05,5],[6.5,5.05],[5.55,4.35],[5.2,4.5],[6.1,4.6],[5.85,4.25],[6.3,4.4],[7.1,4.5],[6.65,4.2],[7.1,4.15],[6.6,3.8],[7.2,3.9],[6.6,3.45],[7.3,3.45],[6.65,3.1],[7.2,3.1],[6.55,2.75],[7.15,2.75],[6.6,2.4],[7,2.35],[6.55,2.1],[7,2.15],
[8.65,4.5],[9.1,4.5],[8.6,4.15],[9.15,4.15],[8.5,3.85],[9.1,3.8],[8.45,3.4],[9.15,3.4],[7.85,3.75],[7.85,3.15],[8.15,3.3],[8.55,3.05],[9.45,3.05],[8.9,2.9],[9.35,2.8],[9.05,2.55],[9.6,2.4],[9.45,2.2],[9.9,2.25],[10.0,2.35],[7.4,3.2],[7.55,2.95],
[10.7,4.4],[11.6,4.45],[11.86,4.55],[10.85,4.4],[11.3,4.5],[11.9,4.4],[11.55,4.6],[12.09,1.79],[12.09,1.79],[1.35,2.93],[-0.65,1.3],[-0.65,1.3]
];
const blackChair=[[-77.7,17.45],[-77.7,17.45],[-68.36,12.62],[-68.36,12.62],[-14.7,25.1],[-14.7,25.1],[-76.2,5.6],[-74.9,5.78],[-73.56,4.9],[-73.56,5.1],[-73.56,4.8],[-73.45,5.0],[-89.5,-1.55],[-89.5,-1.7],[-89.5,-1.9],[-89.6,-1.75],[-90.05,-3.2],[-90.1,-3.35],[-90.05,-3.46],[-90.1,-3.64],[-89.95,-3.3],[-90.15,-3.5],[-85.2,-5.95],[-85.3,-6.0],[-85.15,-5.9],[-36.8,8.86],[-49.2,7.65],[-49.6,7.4]];
const box=[[-74.8,10.7],[-86.8,11.1],[-86.8,10.85],[-86.85,10.6],[-86.95,10.35],[-86.9,10.1],[-86.9,9.85],[-86.95,9.6],[-86.95,9.35],[-87,9.1],[-87,8.85],[-87,8.6],[-86.65,10.9],[-86.7,10.4],[-86.7,9.85],[-86.75,9.3],[-86.8,8.8],[-88.2,8.1],[-88.2,8.25],[-87.4,8.2],[-86.85,3.04],[-86.76,2.7],[-86.7,2.5],[-86.6,2.25],[-86.6,2.07],[-87,0.9],[-87,0.7],[-87,0.55],[-62,8.22],[-62,8.3],[-61.8,8.22],[-69.2,5.9],[-69.5,5.97],[-69.3,6.0],[-68.45,6.66],[-67.75,7.16],[-67.7,7.25],[-67.8,7.05],[-58.4,8.2],[-52.8,7.5],[-48.3,7.16],[-49.7,4.85],[-42.4,8.4],[-40.2,8.3],[-38,8.5],[-30.8,8.5],[-30.7,7.65],[-29.6,7.9],[-29,8.67],[-30.3,2.26],[-16.6,-3.6],[-16.6,-3.6],[2.34,-6.25]];
const brush=[[-90.8,23.2],[-89.75,22.6],[-89.6,22.4],[-89.7,22.2],[-89.4,22.1],[-89.55,21.9],[-89.15,21.7],[-89,21.9],[-89.3,21.57],[-89.85,22.35],[-89.4,22.45],[-89.5,22.05],[-89.0,21.6],[-89.35,21.75],[-88.95,21.75],[-89.75,22.0],[-85.6,17.4],[-85.6,17.4],[-88.45,14.77],[-88.17,14.77],[-87.9,14.8],[-88.3,14.85],[-88.3,14.7],[-88.3,6.4],[-88.3,6.4],[-91.7,-5.23],[-91.4,-5.15],[-91.1,-5.12],[-90.8,-5.1],[-90.55,-4.98],[-90.3,-4.94],[-91.5,-5.3],[-91.2,-5.0],[-90.9,-5.25],[-90.7,-4.95],[-90.4,-5.05],[-90.2,-4.85],[-51.9,7.27]];
const drill=[[-7.7,27.4],[-7.7,27.4],[-12.62,5.0],[-12.5,5.1],[-12.75,4.9],[-12.6,4.85],[-12.45,4.95],[-12.8,5.05]];
const stairs=[[-53.3,26.6],[-53.3,26.6],[-85.8,14.63],[-85.9,14.7],[-85.75,14.55],[-86.96,14.1]];
const whiteChair=[[-82.9,4.25],[-82.9,4.25],[-53.2,5.6],[-81.4,-1.6],[-81.4,-1.8],[-81.45,-2.0],[-81.5,-1.7],[-81.25,-1.75],[-81.3,-2.0],[-81.5,-1.85],[-80.2,-2.3],[-80.1,-2.45],[-79.9,-2.55],[-79.8,-2.7],[-79.5,-2.6],[-79.6,-2.84],[-79.3,-2.75],[-79.3,-3],[-79.7,-2.95],[-80.0,-2.4],[-80.1,-2.6],[-79.9,-2.85],[-79.5,-3.05],[-79.4,-2.5],[-79.15,-2.85],[-80,-2.2],[-79.7,-2.4]];
const wire=[[-77.65,20.46],[-77.65,20.5],[-77.6,20.42],[-56.1,16.4],[-56.1,16.4],[-21.76,-0.54],[-82.55,-2.0],[-82.65,-2.05],[-82.45,-1.95]];
const allPoints=[ok,person,blackChair,box,brush,drill,stairs,whiteChair,wire];
const colours=["rgba(45,122,5,0.92)","rgba(236,30,15,0.92)","rgba(25,25,250,0.9)","rgba(100,255,255,0.95)","rgba(255,255,30,0.95)","rgba(125,15,130,0.9)","rgba(240,160,35,0.92)","rgba(0,0,0,0.95)","rgba(130,130,130,0.95)"];
const legendColours=["#4d9a33","#f05048","#4a4aff","#66ffff","#ffff33","#8a40a0","#ffb040","#333333","#999999"];

function legendMark(col){
  const k=document.createElement('canvas');k.width=30;k.height=30;
  const g=k.getContext('2d');g.strokeStyle=col;g.lineWidth=2;
  g.beginPath();g.moveTo(3.5,3.5);g.lineTo(26.5,26.5);g.moveTo(26.5,3.5);g.lineTo(3.5,26.5);g.stroke();
  return k;
}
const frame={id:'frame',
  afterLayout(ch){const L=ch.legend;L.left=2018;L.top=320.5;L.right=2440;L.bottom=1000;L.width=422;L.height=680;},
  beforeDraw(ch){const c=ch.ctx;c.save();c.fillStyle='#fff';c.strokeStyle='#dcdcdc';c.lineWidth=2;
    c.beginPath();c.roundRect(2037,328,398,593.5,6);c.fill();c.stroke();c.restore();},
  afterDatasetsDraw(ch){const a=ch.chartArea,c=ch.ctx;c.save();c.strokeStyle='#555';c.lineWidth=2;c.strokeRect(a.left,a.top,a.right-a.left,a.bottom-a.top);c.restore();}
};
new Chart(document.getElementById('c'),{
  type:'scatter',
  data:{datasets:classNames.map((n,i)=>({label:n,order:classNames.length-i,
    data:allPoints[i].map(p=>({x:p[0],y:p[1]})),
    pointStyle:'crossRot',pointRadius:10.5,pointHoverRadius:10.5,pointBorderWidth:3.8,
    pointBorderColor:colours[i],pointBackgroundColor:colours[i]}))},
  options:{responsive:false,animation:false,events:[],
    layout:{padding:{left:0,top:32,right:25,bottom:0}},
    plugins:{tooltip:{enabled:false},title:{display:false},
      legend:{display:true,position:'chartArea',align:'start',
        labels:{usePointStyle:true,pointStyleWidth:113,boxHeight:30,padding:21.5,color:'#000',
          font:{family:'"DejaVu Sans"',size:43},
          generateLabels:(ch)=>classNames.map((n,i)=>({text:n,datasetIndex:i,pointStyle:legendMark(legendColours[i]),fontColor:'#000',fillStyle:'#000',strokeStyle:'#000',lineWidth:0}))}}},
    scales:{
      x:{type:'linear',min:-100,max:50,
        afterFit(s){s.height=62;},
        afterBuildTicks(s){s.ticks=xTicks.map(v=>({value:v}));},
        grid:{display:true,drawOnChartArea:false,drawTicks:true,tickLength:7,tickWidth:2,tickColor:'#333'},
        border:{display:true,color:'#555',width:2},
        ticks:{color:'#222',padding:8,maxRotation:0,font:{family:'"DejaVu Sans"',size:20},callback:v=>String(v).replace('-','\u2212')}},
      y:{type:'linear',min:-9.34,max:30.9,
        afterFit(s){s.width=73;},
        afterBuildTicks(s){s.ticks=yTicks.map(v=>({value:v}));},
        grid:{display:true,drawOnChartArea:false,drawTicks:true,tickLength:7,tickWidth:2,tickColor:'#333'},
        border:{display:true,color:'#555',width:2},
        ticks:{color:'#222',padding:8,font:{family:'"DejaVu Sans"',size:20},callback:v=>String(v).replace('-','\u2212')}}
    }
  },
  plugins:[frame]
});
</script></body></html>
